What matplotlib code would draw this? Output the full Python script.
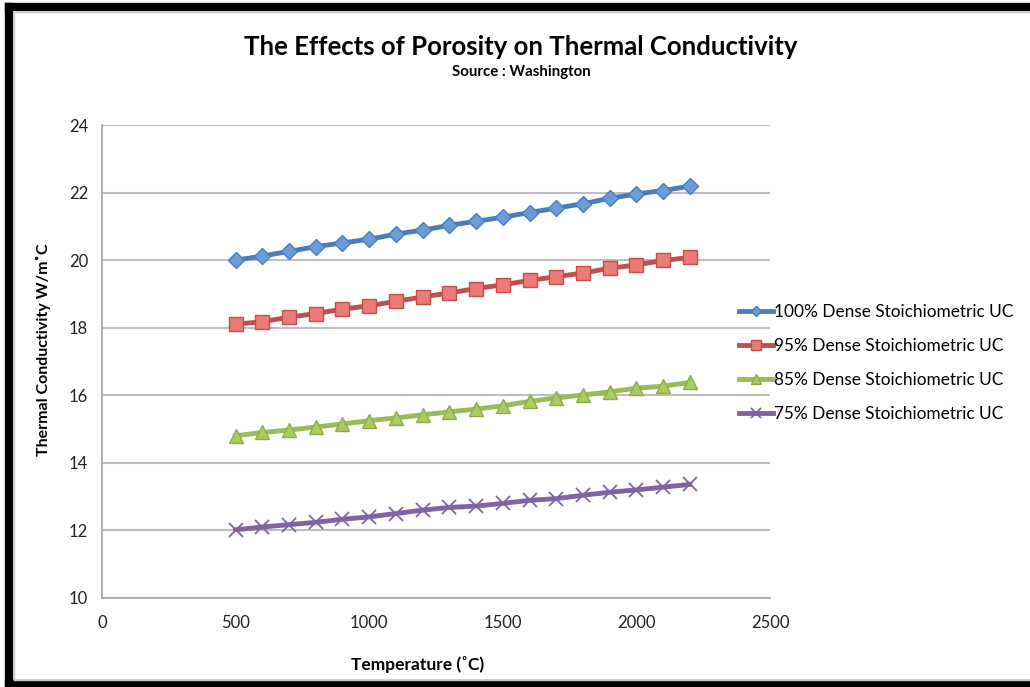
import matplotlib.pyplot as plt
from matplotlib.lines import Line2D

plt.rcParams['font.family'] = ['Lato', 'DejaVu Sans']

# temperature in deg C, conductivity in W/m C
temperature = list(range(500, 2201, 100))
dense_100 = [20.00, 20.12, 20.26, 20.40, 20.51, 20.62, 20.77, 20.89, 21.03, 21.15,
             21.27, 21.41, 21.54, 21.67, 21.83, 21.96, 22.06, 22.19]
dense_95 = [18.10, 18.18, 18.31, 18.42, 18.55, 18.65, 18.78, 18.91, 19.03, 19.16,
            19.27, 19.40, 19.51, 19.62, 19.76, 19.86, 19.99, 20.08]
dense_85 = [14.80, 14.90, 14.97, 15.06, 15.15, 15.25, 15.33, 15.42, 15.51, 15.59,
            15.69, 15.82, 15.92, 16.01, 16.10, 16.21, 16.27, 16.38]
dense_75 = [12.02, 12.10, 12.17, 12.24, 12.33, 12.40, 12.50, 12.60, 12.68, 12.72,
            12.80, 12.89, 12.94, 13.04, 13.13, 13.20, 13.28, 13.36]

labels = ['100% Dense Stoichiometric UC', '95% Dense Stoichiometric UC',
          '85% Dense Stoichiometric UC', '75% Dense Stoichiometric UC']

fig = plt.figure(figsize=(10.3, 6.87), dpi=100)
ax = fig.add_axes([0.099, 0.1296, 0.6486, 0.6884])

styles = [
    dict(color='#4A7EBB', marker='D', ms=8, mfc='#6A9BDA', mec='#4A7EBB'),
    dict(color='#C0504D', marker='s', ms=9.5, mfc='#EC7B78', mec='#C0504D'),
    dict(color='#9BBB59', marker='^', ms=10, mfc='#A9CC5F', mec='#8CAD4C'),
    dict(color='#8064A2', marker='x', ms=9.5, mew=1.3, mec='#8064A2'),
]
for series, label, st in zip([dense_100, dense_95, dense_85, dense_75], labels, styles):
    ax.plot(temperature, series, lw=3.5, label=label, zorder=3, **st)

ax.set_xlim(0, 2500)
ax.set_ylim(10, 24)
ax.set_xticks(range(0, 2501, 500))
ax.set_yticks(range(10, 25, 2))
ax.tick_params(length=0, labelsize=12, colors='#222222')
ax.tick_params(axis='x', pad=12)
ax.tick_params(axis='y', pad=10)
ax.grid(axis='y', color='#BEBEBE', lw=1.5)
ax.set_axisbelow(True)
for side in ['top', 'right']:
    ax.spines[side].set_visible(False)
for side in ['left', 'bottom']:
    ax.spines[side].set_color('#A8A8A8')
    ax.spines[side].set_linewidth(1.3)

ax.set_xlabel('Temperature (˚C)', fontsize=12.5, fontweight='bold')
ax.set_ylabel('Thermal Conductivity W/m˚C', fontsize=11.5, fontweight='bold')
ax.xaxis.set_label_coords(0.472, -0.123)
ax.yaxis.set_label_coords(-0.077, 0.524)

fig.text(0.506, 0.931, 'The Effects of Porosity on Thermal Conductivity',
         ha='center', va='center', fontsize=18.5, fontweight='bold')
fig.text(0.506, 0.895, 'Source : Washington', ha='center', va='center',
         fontsize=10.8, fontweight='bold')

fig.legend(loc='upper left', bbox_to_anchor=(0.717, 0.557), frameon=False,
           fontsize=12.4, handlelength=2.0, handletextpad=0.05, labelspacing=1.03,
           markerscale=0.7, borderaxespad=0, borderpad=0)

# heavy black frame on the left, top and bottom, with a thin grey inner edge
W, H = 1030, 687
left, top, bottom = 9 / W, 1 - 7 / H, 3 / H
frame = [([left, left], [bottom, top]), ([left, 1.1], [top, top]),
         ([left, 1.1], [bottom, bottom])]
for xs, ys in frame:
    fig.add_artist(Line2D(xs, ys, transform=fig.transFigure, color='black',
                          lw=6, solid_capstyle='projecting', zorder=10))
inner_l, inner_t, inner_b = 13.5 / W, 1 - 11.5 / H, 7.5 / H
inner = [([inner_l, inner_l], [inner_b, inner_t]), ([inner_l, 1.1], [inner_t, inner_t]),
         ([inner_l, 1.1], [inner_b, inner_b])]
for xs, ys in inner:
    fig.add_artist(Line2D(xs, ys, transform=fig.transFigure, color='#C8C8C8',
                          lw=1, zorder=10))

fig.savefig('out.png', dpi=100)
